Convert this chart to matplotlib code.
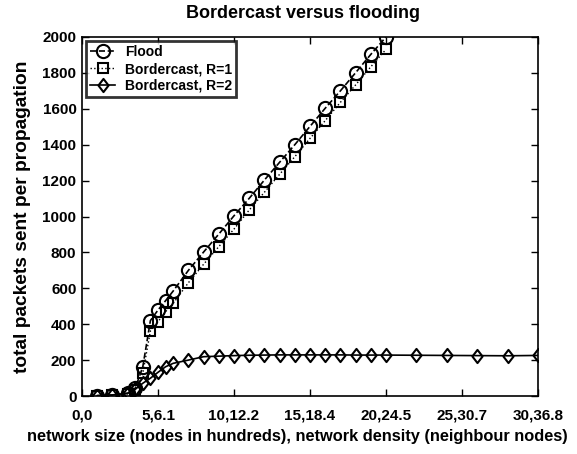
import matplotlib
matplotlib.use("Agg")
import matplotlib.pyplot as plt
from matplotlib.path import Path

plt.rcParams['font.family'] = ['Liberation Sans', 'DejaVu Sans']
plt.rcParams['font.weight'] = 'bold'

flood_x = [1, 2, 3, 3.5, 4, 4.5, 5, 5.5, 6, 7, 8, 9, 10, 11, 12, 13, 14, 15, 16, 17, 18, 19, 20]
flood_y = [2, 5, 15, 43, 163, 420, 479, 531, 585, 700, 802, 902, 1004, 1101, 1203, 1302, 1400, 1502, 1603, 1700, 1801, 1903, 2000]

r1_x = [1, 2, 3, 3.5, 4, 4.5, 5, 5.5, 6, 7, 8, 9, 10, 11, 12, 13, 14, 15, 16, 17, 18, 19, 20]
r1_y = [2, 5, 12, 35, 126, 362, 414, 470, 516, 631, 734, 832, 930, 1036, 1135, 1235, 1333, 1435, 1534, 1636, 1733, 1834, 1931]

r2_x = [1, 2, 3, 3.5, 4, 4.5, 5, 5.5, 6, 7, 8, 9, 10, 11, 12, 13, 14, 15, 16, 17, 18, 19, 20, 22, 24, 26, 28, 30]
r2_y = [2, 6, 15, 37, 71, 99, 132, 163, 182, 200, 219, 222, 225, 227, 228, 229, 229, 229, 229, 229, 228, 228, 228, 227, 226, 225, 224, 226]

xticks = [0, 5, 10, 15, 20, 25, 30]
xticklabels = ['0,0', '5,6.1', '10,12.2', '15,18.4', '20,24.5', '25,30.7', '30,36.8']
yticks = [0, 200, 400, 600, 800, 1000, 1200, 1400, 1600, 1800, 2000]

diamond = Path([(0, 1), (0.77, 0), (0, -1), (-0.77, 0), (0, 1)],
               [Path.MOVETO, Path.LINETO, Path.LINETO, Path.LINETO, Path.CLOSEPOLY])

fig = plt.figure(figsize=(5.77, 4.54), dpi=100)
ax = fig.add_axes([82/577, 1-396/454, (538-82)/577, (396-37)/454])

mk = dict(color='black', markerfacecolor='none', markeredgecolor='black',
          markeredgewidth=1.5, linewidth=1.2)
ax.plot(flood_x, flood_y, linestyle='--', marker='o', markersize=9.5,
        label='Flood', **mk)
ax.plot(r1_x, r1_y, linestyle=':', marker='s', markersize=7,
        label='Bordercast, R=1', **{**mk, 'linewidth': 1.0})
ax.plot(r2_x, r2_y, linestyle='-', marker=diamond, markersize=9.5,
        label='Bordercast, R=2', **mk)

ax.set_xlim(0, 30)
ax.set_ylim(0, 2000)
ax.set_xticks(xticks)
ax.set_xticklabels(xticklabels)
ax.set_yticks(yticks)
ax.tick_params(direction='in', top=True, right=True, length=5, width=1,
               labelsize=11)
ax.tick_params(axis='x', pad=9)
ax.tick_params(axis='y', pad=4)
for lbl in ax.get_xticklabels() + ax.get_yticklabels():
    lbl.set_fontweight('bold')
for s in ax.spines.values():
    s.set_linewidth(1.2)

ax.set_title('Bordercast versus flooding', fontsize=13, fontweight='bold', pad=14,
             x=(303 - 82) / 456)
ax.set_xlabel('network size (nodes in hundreds), network density (neighbour nodes)',
              fontsize=11.8, fontweight='bold')
ax.xaxis.set_label_coords((297 - 82) / 456, -(437 - 396) / 359, transform=None)
ax.xaxis.label.set_verticalalignment('center')
ax.xaxis.set_label_coords((297 - 82) / 456, -(437 - 396) / 359)
ax.set_ylabel('total packets sent per propagation', fontsize=13.8, fontweight='bold', labelpad=8)

leg = ax.legend(loc='upper left', fontsize=10, frameon=True, fancybox=False,
                borderpad=0.3, labelspacing=0.2, handlelength=1.8, handletextpad=0.7,
                borderaxespad=0.3)
leg.get_frame().set_edgecolor('black')
leg.get_frame().set_linewidth(2)
for t in leg.get_texts():
    t.set_fontweight('bold')

fig.savefig('out.png', dpi=100)
